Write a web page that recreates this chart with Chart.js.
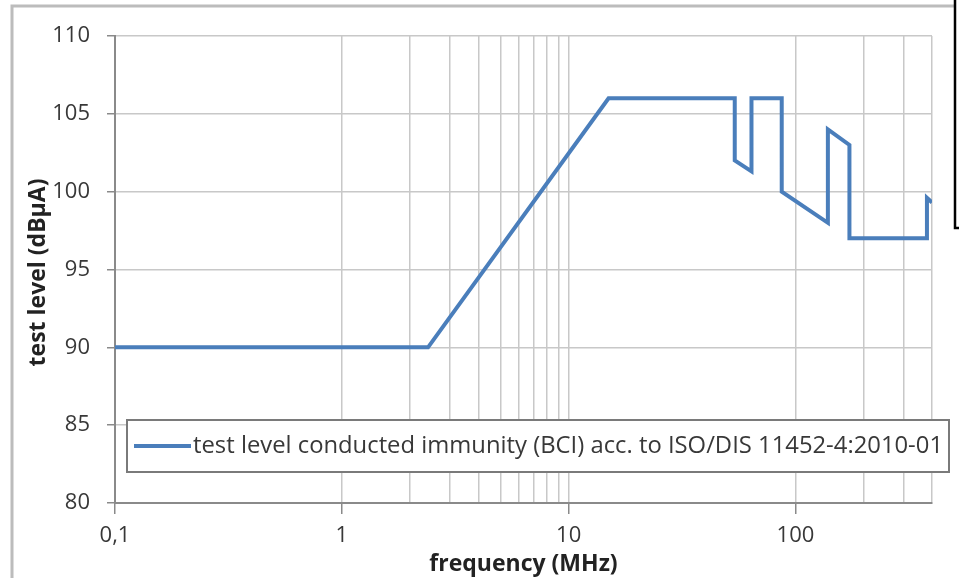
<!DOCTYPE html>
<html>
<head>
<meta charset="utf-8">
<script src="https://cdn.jsdelivr.net/npm/chart.js@4/dist/chart.umd.min.js"></script>
<style>
  html, body { margin: 0; padding: 0; background: #fff; }
  #wrap { width: 959px; height: 578px; position: relative; }
</style>
</head>
<body>
<div id="wrap"><canvas id="bciChart" width="959" height="578"></canvas></div>
<script>
// test level curve (frequency in MHz, level in dBµA)
const freqMHz = [0.1, 2.4, 15, 54, 54, 64, 64, 87, 87, 139, 139, 173, 173, 380, 380, 400];
const levelDbuA = [90, 90, 106, 106, 102, 101.3, 106, 106, 100, 98, 104, 103, 97, 97, 99.6, 99.3];
const seriesLabel = 'test level conducted immunity (BCI) acc. to ISO/DIS 11452-4:2010-01';
const xTickLabels = { 0.1: '0,1', 1: '1', 10: '10', 100: '100' };
const xMinorGrid = [2, 3, 4, 5, 6, 7, 8, 9, 200, 300, 400];
const yTicks = [80, 85, 90, 95, 100, 105, 110];

const FONT = "'Open Sans', 'Liberation Sans', sans-serif";
const TEXT = '#383838';

const points = freqMHz.map((f, i) => ({ x: f, y: levelDbuA[i] }));

function isMajor(v) {
  return Object.keys(xTickLabels).some(k => Math.abs(Number(k) - v) < 1e-9);
}
function isMinor(v) {
  return xMinorGrid.some(k => Math.abs(k - v) < 1e-9);
}

// frame, legend box and axis titles
const decor = {
  id: 'decor',
  beforeDraw(chart) {
    const ctx = chart.ctx;
    ctx.save();
    ctx.fillStyle = '#fff';
    ctx.fillRect(0, 0, chart.width, chart.height);
    ctx.strokeStyle = '#bcbcbc';
    ctx.lineWidth = 3;
    ctx.beginPath();
    ctx.moveTo(12, chart.height + 2);
    ctx.lineTo(12, 6);
    ctx.lineTo(955, 6);
    ctx.stroke();
    ctx.restore();
  },
  afterDraw(chart) {
    const ctx = chart.ctx;
    const area = chart.chartArea;
    ctx.save();

    // legend box sitting inside the plot
    ctx.fillStyle = '#fff';
    ctx.fillRect(127, 420, 822, 52);
    ctx.strokeStyle = '#7a7a7a';
    ctx.lineWidth = 2;
    ctx.strokeRect(127, 420, 822, 52);
    ctx.strokeStyle = chart.data.datasets[0].borderColor;
    ctx.lineWidth = 4;
    ctx.beginPath();
    ctx.moveTo(134, 446);
    ctx.lineTo(191, 446);
    ctx.stroke();
    ctx.fillStyle = TEXT;
    ctx.font = '23px ' + FONT;
    ctx.textBaseline = 'middle';
    const w = ctx.measureText(seriesLabel).width;
    ctx.save();
    ctx.translate(193, 446);
    ctx.scale(750 / w, 1);
    ctx.fillText(seriesLabel, 0, 0);
    ctx.restore();

    // axis titles
    ctx.fillStyle = '#222';
    ctx.font = 'bold 23px ' + FONT;
    ctx.textAlign = 'center';
    ctx.fillText('frequency (MHz)', (area.left + area.right) / 2, 564);
    ctx.save();
    ctx.translate(38, (area.top + area.bottom) / 2 + 3);
    ctx.rotate(-Math.PI / 2);
    ctx.fillText('test level (dBµA)', 0, 0);
    ctx.restore();

    // black box of the neighbouring text frame
    ctx.strokeStyle = '#000';
    ctx.lineWidth = 2.5;
    ctx.beginPath();
    ctx.moveTo(955, -2);
    ctx.lineTo(955, 228);
    ctx.lineTo(962, 228);
    ctx.stroke();
    ctx.restore();
  }
};

new Chart(document.getElementById('bciChart').getContext('2d'), {
  type: 'line',
  data: {
    datasets: [{
      label: seriesLabel,
      data: points,
      borderColor: '#4a7ebb',
      borderWidth: 4,
      pointRadius: 0,
      tension: 0,
      fill: false
    }]
  },
  options: {
    responsive: false,
    animation: false,
    layout: { padding: { left: 0, top: 36, right: 27, bottom: 0 } },
    plugins: { legend: { display: false }, tooltip: { enabled: false } },
    scales: {
      x: {
        type: 'logarithmic',
        min: 0.1,
        max: 400,
        afterFit(scale) { scale.height = 75; },
        afterBuildTicks(scale) {
          scale.ticks = scale.ticks.filter(t => isMajor(t.value) || isMinor(t.value));
        },
        ticks: {
          autoSkip: false,
          maxRotation: 0,
          padding: 9,
          color: TEXT,
          font: { family: FONT, size: 22 },
          callback(v) {
            const k = Object.keys(xTickLabels).find(k => Math.abs(Number(k) - v) < 1e-9);
            return k ? xTickLabels[k] : '';
          }
        },
        grid: {
          color: '#c8c8c8',
          lineWidth: 1.5,
          tickLength: 11,
          tickColor: ctx => isMajor(ctx.tick.value) ? '#8a8a8a' : 'rgba(0,0,0,0)'
        },
        border: { color: '#8a8a8a', width: 2 }
      },
      y: {
        min: 80,
        max: 110,
        afterFit(scale) { scale.width = 115; },
        afterBuildTicks(scale) {
          scale.ticks = yTicks.map(v => ({ value: v }));
        },
        ticks: {
          padding: 17,
          color: TEXT,
          font: { family: FONT, size: 22 }
        },
        grid: {
          color: '#c8c8c8',
          lineWidth: 1.5,
          tickLength: 8,
          tickColor: '#8a8a8a'
        },
        border: { color: '#8a8a8a', width: 2 }
      }
    }
  },
  plugins: [decor]
});
</script>
</body>
</html>
